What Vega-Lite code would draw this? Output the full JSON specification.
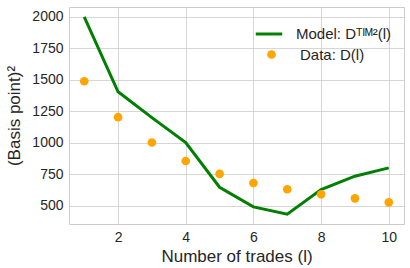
{
  "$schema": "https://vega.github.io/schema/vega-lite/v6.json",
  "width": 335,
  "height": 217,
  "autosize": {"type": "none"},
  "padding": {"left": 69, "top": 7, "right": 6, "bottom": 44},
  "background": "white",
  "config": {
    "font": "Liberation Sans",
    "view": {"stroke": "#cccccc", "strokeWidth": 1},
    "axis": {
      "grid": true,
      "gridColor": "#cccccc",
      "gridWidth": 0.8,
      "domain": false,
      "ticks": false,
      "labelFont": "Liberation Sans",
      "labelFontSize": 14,
      "labelColor": "#262626",
      "labelPadding": 6,
      "titleFont": "Liberation Sans",
      "titleFontSize": 17,
      "titleFontWeight": "normal",
      "titleColor": "#262626"
    },
    "legend": {
      "labelFont": "Liberation Sans",
      "labelFontSize": 15,
      "labelColor": "#262626"
    }
  },
  "data": {
    "values": [
      {"l": 1, "model": 2000, "data": 1489},
      {"l": 2, "model": 1405, "data": 1203},
      {"l": 3, "model": 1200, "data": 1002},
      {"l": 4, "model": 1002, "data": 855},
      {"l": 5, "model": 646, "data": 752},
      {"l": 6, "model": 490, "data": 680},
      {"l": 7, "model": 432, "data": 630},
      {"l": 8, "model": 628, "data": 590},
      {"l": 9, "model": 734, "data": 558},
      {"l": 10, "model": 800, "data": 526}
    ]
  },
  "layer": [
    {
      "mark": {"type": "line", "strokeWidth": 3, "clip": true},
      "encoding": {
        "x": {"field": "l", "type": "quantitative", "scale": {"domain": [0.55, 10.45], "nice": false, "zero": false}, "axis": {"values": [2, 4, 6, 8, 10], "labelOverlap": false, "title": "Number of trades (l)", "titlePadding": 4}},
        "y": {"field": "model", "type": "quantitative", "scale": {"domain": [354, 2079], "nice": false, "zero": false}, "axis": {"values": [500, 750, 1000, 1250, 1500, 1750, 2000], "labelOverlap": false, "labelFlush": false, "format": "d", "title": "(Basis point)²", "titlePadding": 8}},
        "color": {"datum": "Model: Dᵀᴵᴹ²(l)", "type": "nominal", "scale": {"range": ["#008000"]}, "legend": {"title": null, "orient": "none", "legendX": 185, "legendY": 12, "symbolType": "stroke", "symbolSize": 700, "symbolStrokeWidth": 3, "labelOffset": 12}}
      }
    },
    {
      "mark": {"type": "point", "filled": true, "size": 75, "opacity": 1},
      "encoding": {
        "x": {"field": "l", "type": "quantitative", "axis": {"values": [2, 4, 6, 8, 10], "labelOverlap": false, "title": "Number of trades (l)", "titlePadding": 4}},
        "y": {"field": "data", "type": "quantitative", "axis": {"values": [500, 750, 1000, 1250, 1500, 1750, 2000], "labelOverlap": false, "labelFlush": false, "format": "d", "title": "(Basis point)²", "titlePadding": 8}},
        "fill": {"datum": "Data: D(l)", "type": "nominal", "scale": {"range": ["#FFA500"]}, "legend": {"title": null, "orient": "none", "legendX": 195, "legendY": 40, "symbolType": "circle", "symbolSize": 75, "symbolOpacity": 1, "labelOffset": 21}}
      }
    }
  ],
  "resolve": {"scale": {"color": "independent", "fill": "independent"}}
}
